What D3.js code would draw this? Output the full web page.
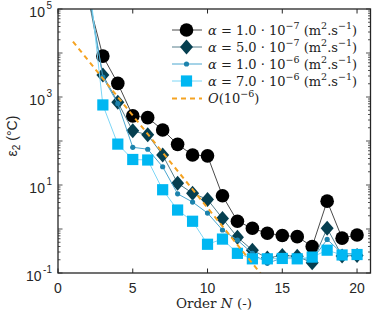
<!DOCTYPE html>
<html>
<head>
<meta charset="utf-8">
<script src="https://cdn.jsdelivr.net/npm/d3@7"></script>
<style>
  body { margin: 0; background: #fff; }
  svg { display: block; }
</style>
</head>
<body>
<script>
const orders = [2, 3, 4, 5, 6, 7, 8, 9, 10, 11, 12, 13, 14, 15, 16, 17, 18, 19, 20];
const errA1e7 = [1.8e5, 8500, 2040, 372, 339, 178, 84, 48, 46, 5.7, 1.5, 1.04, 0.80, 0.71, 0.67, 0.40, 4.3, 0.62, 0.73];
const errA5e7 = [2.1e5, 3160, 760, 170, 138, 48, 11, 6.5, 4.7, 1.74, 0.65, 0.33, 0.22, 0.25, 0.24, 0.17, 1.04, 0.245, 0.25];
const errA1e6 = [3.2e5, 2820, 710, 72, 65, 26, 6.3, 4.1, 2.3, 0.95, 0.56, 0.28, 0.166, 0.22, 0.22, 0.2, 0.58, 0.28, 0.27];
const errA7e6 = [8e5, 660, 85, 38, 37, 7.8, 2.7, 1.5, 0.45, 0.59, 0.28, 0.21, 0.21, 0.214, 0.21, 0.23, 0.33, 0.257, 0.263];
const refOrders = [1, 14];
const refValues = [18200, 0.063];
const xTicks = [0, 5, 10, 15, 20];
const yLabelExps = [5, 3, 1, -1];

const w = 374, h = 318;
const padLeft = 58, padRight = 370.5, padTop = 9, padBottom = 273;

const svg = d3.select("body").append("svg")
  .attr("width", w)
  .attr("height", h);

const xScale = d3.scaleLinear().domain([0, 20.9]).range([padLeft, padRight]);
const yScale = d3.scaleLog().domain([0.1, 1e5]).range([padBottom, padTop]);

svg.append("defs").append("clipPath").attr("id", "plotClip")
  .append("rect")
  .attr("x", padLeft).attr("y", padTop)
  .attr("width", padRight - padLeft).attr("height", padBottom - padTop);

const series = [
  { vals: errA1e7, marker: "circle", fill: "#000000", line: "#4a4a4a", label: ["1.0", "−7"] },
  { vals: errA5e7, marker: "diamond", fill: "#063f50", line: "#567f8c", label: ["5.0", "−7"] },
  { vals: errA1e6, marker: "dot", fill: "#1c83ad", line: "#4aa6cf", label: ["1.0", "−6"] },
  { vals: errA7e6, marker: "square", fill: "#00b7f2", line: "#7dd6f6", label: ["7.0", "−6"] }
];

function drawMarker(g, type, cx, cy, fill) {
  if (type === "circle") {
    g.append("circle").attr("cx", cx).attr("cy", cy).attr("r", 6.8).attr("fill", fill);
  } else if (type === "diamond") {
    g.append("path")
      .attr("d", `M${cx},${cy - 7.5}L${cx + 6.5},${cy}L${cx},${cy + 7.5}L${cx - 6.5},${cy}Z`)
      .attr("fill", fill);
  } else if (type === "dot") {
    g.append("circle").attr("cx", cx).attr("cy", cy).attr("r", 2.6).attr("fill", fill);
  } else {
    g.append("rect").attr("x", cx - 5.6).attr("y", cy - 5.6)
      .attr("width", 11.2).attr("height", 11.2).attr("fill", fill);
  }
}

const plot = svg.append("g").attr("clip-path", "url(#plotClip)");

const line = d3.line()
  .x(d => xScale(d[0]))
  .y(d => yScale(d[1]));

series.forEach(s => {
  const pts = orders.map((n, i) => [n, s.vals[i]]);
  plot.append("path")
    .attr("d", line(pts))
    .attr("fill", "none")
    .attr("stroke", s.line)
    .attr("stroke-width", 1);
  pts.filter(p => p[1] <= 1e5).forEach(p => {
    drawMarker(plot, s.marker, xScale(p[0]), yScale(p[1]), s.fill);
  });
});

plot.append("path")
  .attr("d", line(refOrders.map((n, i) => [n, refValues[i]])))
  .attr("fill", "none")
  .attr("stroke", "#f5a322")
  .attr("stroke-width", 2)
  .attr("stroke-dasharray", "5,4");

// axes box
const axisCol = "#262626";
svg.append("rect")
  .attr("x", padLeft).attr("y", padTop)
  .attr("width", padRight - padLeft).attr("height", padBottom - padTop)
  .attr("fill", "none").attr("stroke", axisCol).attr("stroke-width", 1.3);

// x ticks (bottom + top, inward)
xTicks.forEach(t => {
  const x = xScale(t);
  svg.append("line").attr("x1", x).attr("x2", x).attr("y1", padBottom).attr("y2", padBottom - 4.5)
    .attr("stroke", axisCol);
  svg.append("line").attr("x1", x).attr("x2", x).attr("y1", padTop).attr("y2", padTop + 4.5)
    .attr("stroke", axisCol);
  svg.append("text")
    .attr("x", x).attr("y", 293)
    .attr("text-anchor", "middle")
    .attr("font-family", "Liberation Sans, Arial, sans-serif")
    .attr("font-size", 14)
    .attr("fill", "#262626")
    .text(t);
});

// y ticks, log major + minor
for (let e = -1; e <= 5; e++) {
  for (let m = 1; m <= 9; m++) {
    const v = m * Math.pow(10, e);
    if (v > 1e5) break;
    const y = yScale(v);
    const len = m === 1 ? 4.5 : 2.5;
    svg.append("line").attr("x1", padLeft).attr("x2", padLeft + len).attr("y1", y).attr("y2", y)
      .attr("stroke", axisCol).attr("stroke-width", 0.8);
    svg.append("line").attr("x1", padRight).attr("x2", padRight - len).attr("y1", y).attr("y2", y)
      .attr("stroke", axisCol).attr("stroke-width", 0.8);
  }
}

yLabelExps.forEach(e => {
  const y = yScale(Math.pow(10, e));
  const t = svg.append("text")
    .attr("x", 52).attr("y", y + 8)
    .attr("text-anchor", "end")
    .attr("font-family", "Liberation Sans, Arial, sans-serif")
    .attr("font-size", 14)
    .attr("fill", "#262626");
  t.append("tspan").text("10");
  t.append("tspan").attr("dx", 1.5).attr("dy", -8).attr("font-size", 10)
    .text(e < 0 ? "-" + Math.abs(e) : e);
});

const serif = "DejaVu Serif, Liberation Serif, serif";

// axis titles
svg.append("text")
  .attr("x", 214).attr("y", 308)
  .attr("text-anchor", "middle")
  .attr("font-family", serif)
  .attr("font-size", 13.5)
  .attr("fill", "#262626")
  .call(t => {
    t.append("tspan").text("Order ");
    t.append("tspan").attr("font-style", "italic").text("N");
    t.append("tspan").text(" (-)");
  });

svg.append("text")
  .attr("transform", "translate(17,136) rotate(-90)")
  .attr("text-anchor", "middle")
  .attr("font-family", "Liberation Sans, Arial, sans-serif")
  .attr("font-size", 14)
  .attr("fill", "#262626")
  .call(t => {
    t.append("tspan").text("ε");
    t.append("tspan").attr("dy", 3).attr("font-size", 10).text("2");
    t.append("tspan").attr("dy", -3).text(" (°C)");
  });

// legend
const legendRows = [30, 47, 64, 81, 98.5];
const legend = svg.append("g");

series.forEach((s, i) => {
  const y = legendRows[i];
  legend.append("line").attr("x1", 172).attr("x2", 202).attr("y1", y).attr("y2", y)
    .attr("stroke", s.line).attr("stroke-width", 1);
  drawMarker(legend, s.marker, 186.5, y, s.fill);
  const t = legend.append("text")
    .attr("x", 208).attr("y", y + 4.5)
    .attr("font-family", serif)
    .attr("font-size", 13)
    .attr("fill", "#222");
  t.append("tspan").attr("font-style", "italic").text("α");
  t.append("tspan").text(" = " + s.label[0] + " · 10");
  t.append("tspan").attr("dy", -6).attr("font-size", 9.5).text(s.label[1]);
  t.append("tspan").attr("dy", 6).text(" (m");
  t.append("tspan").attr("dy", -6).attr("font-size", 9.5).text("2");
  t.append("tspan").attr("dy", 6).text(".s");
  t.append("tspan").attr("dy", -6).attr("font-size", 9.5).text("−1");
  t.append("tspan").attr("dy", 6).text(")");
});

legend.append("line").attr("x1", 172).attr("x2", 202)
  .attr("y1", legendRows[4]).attr("y2", legendRows[4])
  .attr("stroke", "#f5a322").attr("stroke-width", 2).attr("stroke-dasharray", "5,4");
legend.append("text")
  .attr("x", 208).attr("y", legendRows[4] + 4.5)
  .attr("font-family", serif)
  .attr("font-size", 13)
  .attr("fill", "#222")
  .call(t => {
    t.append("tspan").attr("font-style", "italic").text("O");
    t.append("tspan").text("(10");
    t.append("tspan").attr("dy", -6).attr("font-size", 9.5).text("−6");
    t.append("tspan").attr("dy", 6).text(")");
  });
</script>
</body>
</html>
